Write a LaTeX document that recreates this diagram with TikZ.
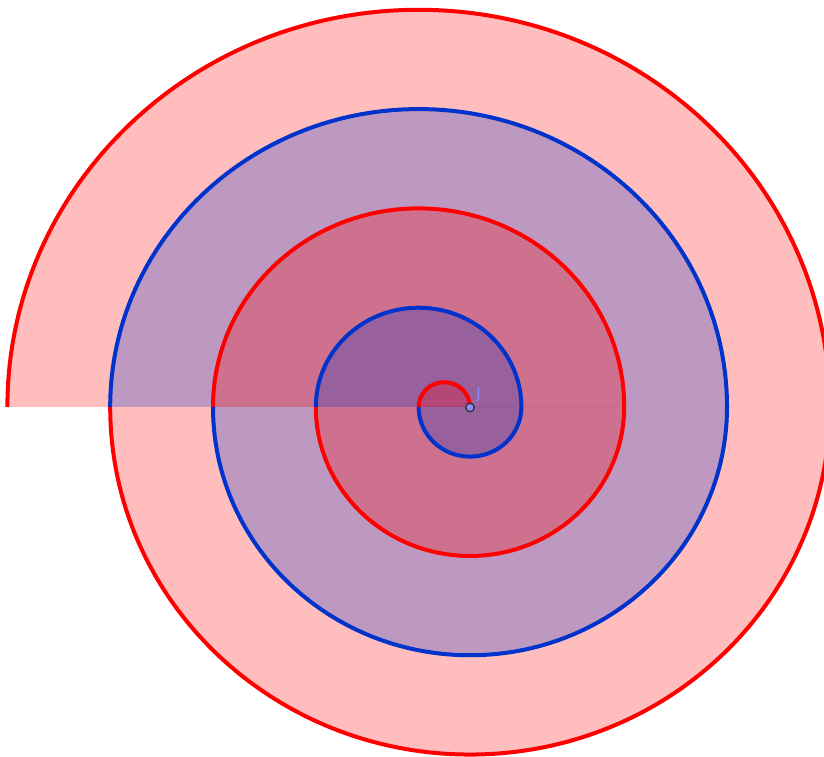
\documentclass[tikz,border=0pt]{standalone}
\usepackage{fontspec}
\setmainfont{DejaVu Sans}
\definecolor{myred}{RGB}{255,0,0}
\definecolor{myblue}{RGB}{0,51,204}
\definecolor{ptcol}{RGB}{140,140,255}
\newcommand\UpHalf[4]{% color, cx, rx, ry
  \fill[#1, fill opacity=0.26] (#2+#3,350) arc[start angle=0,end angle=180,x radius=#3pt,y radius=#4pt] -- cycle;}
\newcommand\LoHalf[4]{%
  \fill[#1, fill opacity=0.26] (#2-#3,350) arc[start angle=180,end angle=360,x radius=#3pt,y radius=#4pt] -- cycle;}
\newcommand\UpLine[4]{%
  \draw[#1, line width=4pt] (#2+#3,350) arc[start angle=0,end angle=180,x radius=#3pt,y radius=#4pt];}
\newcommand\LoLine[4]{%
  \draw[#1, line width=4pt] (#2-#3,350) arc[start angle=180,end angle=360,x radius=#3pt,y radius=#4pt];}
\begin{document}
\begin{tikzpicture}[x=1pt,y=1pt]
\useasboundingbox (0,0) rectangle (824,757);
\clip (0,0) rectangle (824,757);
% fills, largest first
\UpHalf{myred}{418.6}{411.2}{397.2}
\LoHalf{myred}{470}{359.8}{347.55}
\UpHalf{myblue}{418.6}{308.4}{297.9}
\LoHalf{myblue}{470}{257}{248.25}
\UpHalf{myred}{418.6}{205.6}{198.6}
\LoHalf{myred}{470}{154.2}{148.95}
\UpHalf{myblue}{418.6}{102.8}{99.3}
\LoHalf{myblue}{470}{51.4}{49.65}
\UpHalf{myred}{444.3}{25.7}{24.8}
% strokes
\UpLine{myred}{444.3}{25.7}{24.8}
\LoLine{myblue}{470}{51.4}{49.65}
\UpLine{myblue}{418.6}{102.8}{99.3}
\LoLine{myred}{470}{154.2}{148.95}
\UpLine{myred}{418.6}{205.6}{198.6}
\LoLine{myblue}{470}{257}{248.25}
\UpLine{myblue}{418.6}{308.4}{297.9}
\LoLine{myred}{470}{359.8}{347.55}
\UpLine{myred}{418.6}{411.2}{397.2}
% point J
\node[circle, draw=black!80, fill=ptcol, line width=1.3pt, inner sep=0pt, minimum size=8.5pt] (J) at (470,349.5) {};
\node[text=ptcol, font=\fontsize{15}{17}\selectfont, inner sep=0pt] (Jlab) at (478.5,362) {J};
\end{tikzpicture}
\end{document}
